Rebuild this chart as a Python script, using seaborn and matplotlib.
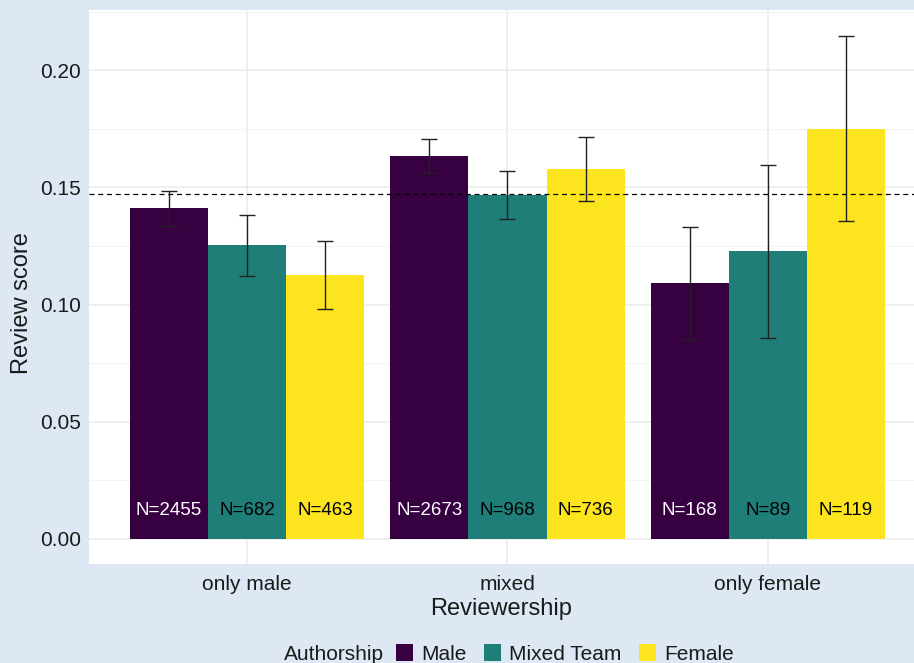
import matplotlib
matplotlib.use("Agg")
import matplotlib.pyplot as plt
from matplotlib.patches import Patch
import seaborn as sns
import pandas as pd

# Reviewer groups, author groups and the mean review score per combination
reviewership = ["only male", "mixed", "only female"]
authorship = ["Male", "Mixed Team", "Female"]

score_male = [0.1410, 0.1633, 0.1090]
score_mixed = [0.1252, 0.1467, 0.1227]
score_female = [0.1124, 0.1579, 0.1751]

ci_low_male = [0.1335, 0.1561, 0.0850]
ci_low_mixed = [0.1121, 0.1365, 0.0857]
ci_low_female = [0.0982, 0.1443, 0.1357]

ci_high_male = [0.1485, 0.1707, 0.1332]
ci_high_mixed = [0.1384, 0.1569, 0.1596]
ci_high_female = [0.1269, 0.1717, 0.2145]

n_male = [2455, 2673, 168]
n_mixed = [682, 968, 89]
n_female = [463, 736, 119]

overall_mean = 0.1471

palette = {"Male": "#370040", "Mixed Team": "#1F7F78", "Female": "#FCE41F"}
label_colors = {"Male": "white", "Mixed Team": "black", "Female": "black"}

rows = []
for author, means, lows, highs, ns in [
    ("Male", score_male, ci_low_male, ci_high_male, n_male),
    ("Mixed Team", score_mixed, ci_low_mixed, ci_high_mixed, n_mixed),
    ("Female", score_female, ci_low_female, ci_high_female, n_female),
]:
    for rev, m, lo, hi, n in zip(reviewership, means, lows, highs, ns):
        rows.append({"Reviewership": rev, "Authorship": author,
                     "score": m, "lo": lo, "hi": hi, "n": n})
df = pd.DataFrame(rows)

sns.set_style("white")
plt.rcParams["font.family"] = ["Liberation Sans", "DejaVu Sans"]

bg = "#DDE8F4"
W, H = 914, 663
fig = plt.figure(figsize=(W / 100, H / 100), dpi=100, facecolor=bg)
left, right, top, bottom = 89, 914, 10, 564
ax = fig.add_axes([left / W, 1 - bottom / H, (right - left) / W, (bottom - top) / H])
ax.set_facecolor("white")

sns.barplot(data=df, x="Reviewership", y="score", hue="Authorship",
            order=reviewership, hue_order=authorship, palette=palette,
            errorbar=None, width=0.9, gap=0, linewidth=0, saturation=1,
            legend=False, ax=ax, zorder=2)

# Error bars and sample-size labels, placed at each bar's centre
for container, author in zip(ax.containers, authorship):
    sub = df[df["Authorship"] == author].set_index("Reviewership").loc[reviewership]
    for patch, (_, r) in zip(container.patches, sub.iterrows()):
        xc = patch.get_x() + patch.get_width() / 2
        ax.errorbar(xc, r["score"], yerr=[[r["score"] - r["lo"]], [r["hi"] - r["score"]]],
                    fmt="none", ecolor="#222222", elinewidth=1.0, capsize=6,
                    capthick=1.0, zorder=4)
        ax.text(xc, 0.012, f"N={r['n']}", ha="center", va="center",
                fontsize=13.5, color=label_colors[author], zorder=5)

ax.axhline(overall_mean, color="black", lw=0.9, ls=(0, (4, 3)), zorder=3)

ax.set_xlim(-0.607, 2.561)
ax.set_ylim(-0.01075, 0.2257)
ax.set_yticks([0.0, 0.05, 0.10, 0.15, 0.20])
ax.set_yticklabels(["0.00", "0.05", "0.10", "0.15", "0.20"])
ax.set_yticks([0.025, 0.075, 0.125, 0.175, 0.225], minor=True)
ax.grid(True, which="major", axis="both", color="#EBEBEB", lw=1.1, zorder=0)
ax.grid(True, which="minor", axis="y", color="#F3F3F3", lw=0.8, zorder=0)
ax.set_axisbelow(True)
for s in ax.spines.values():
    s.set_visible(False)
ax.tick_params(axis="both", which="both", length=0, labelsize=15, colors="#1a1a1a")
ax.tick_params(axis="y", pad=6)
ax.tick_params(axis="x", pad=8)
ax.set_xlabel("Reviewership", fontsize=17, color="#1a1a1a", labelpad=3)
ax.set_ylabel("")
fig.text(22 / W, 1 - 303 / H, "Review score", rotation=90, ha="center", va="center",
         fontsize=17, color="#1a1a1a")

# Legend along the bottom edge
fig.text(284 / W, 1 - 654 / H, "Authorship", ha="left", va="center",
         fontsize=15, color="#1a1a1a")
handles = [Patch(facecolor=palette[a], edgecolor="none", label=a) for a in authorship]
leg = fig.legend(handles=handles, loc="center left", bbox_to_anchor=(396 / W, 1 - 654 / H),
                 ncol=3, frameon=False, fontsize=15, handlelength=0.82, handleheight=0.82,
                 handletextpad=0.38, columnspacing=0.85, borderpad=0, borderaxespad=0)
for t in leg.get_texts():
    t.set_color("#1a1a1a")

fig.savefig("out.png", dpi=100, facecolor=bg)
